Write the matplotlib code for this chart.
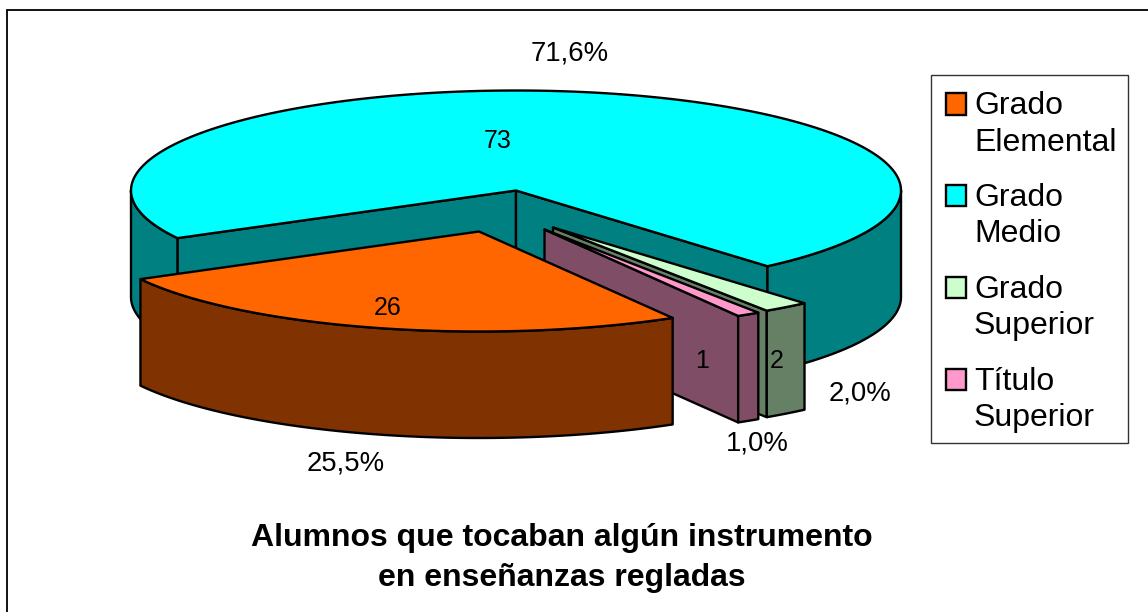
import numpy as np
import matplotlib
matplotlib.use("Agg")
import matplotlib.pyplot as plt
from matplotlib.patches import Polygon, Rectangle, Patch
from matplotlib.legend_handler import HandlerPatch

# ---- data ----
categories = ["Grado\nElemental", "Grado\nMedio", "Grado\nSuperior", "Título\nSuperior"]
values = [26, 73, 2, 1]
percent_labels = ["25,5%", "71,6%", "2,0%", "1,0%"]
title_text = "Alumnos que tocaban algún instrumento\nen enseñanzas regladas"

# ---- style ----
top_colors = ["#FF6600", "#00FFFF", "#CCFFCC", "#FF99CC"]
side_colors = ["#803300", "#008080", "#668066", "#804D66"]
explode_px = [(-37, 41), (0, 0), (37, 37), (28.5, 39)]
value_pos = [(388, 308), (498, 141), (777, 361), (702, 361)]
pct_pos = [(346, 464), (570, 54), (860, 394), (757, 444)]
draw_order = [1, 2, 3, 0]
CX, CY, RX, RY, DEPTH = 516, 190.5, 385, 100, 106.5
FIRST_ANGLE = 300.2  # degrees, math convention; slices run clockwise
LW = 1.7

plt.rcParams["font.family"] = ["Liberation Sans", "DejaVu Sans"]
fig = plt.figure(figsize=(11.48, 6.12), dpi=100)
ax = fig.add_axes([0, 0, 1, 1])
ax.set_xlim(0, 1148)
ax.set_ylim(612, 0)
ax.axis("off")

# the chart area frame is only visible along its top and left edges
ax.plot([6.5, 6.5, 1148], [612, 9.5, 9.5], color="black", lw=1.3, zorder=0,
        solid_joinstyle="miter", clip_on=False)


def pt(a, cx, cy):
    r = np.deg2rad(a)
    return cx + RX * np.cos(r), cy - RY * np.sin(r)


def arc(a0, a1, cx, cy):
    r = np.deg2rad(np.linspace(a0, a1, 200))
    return np.column_stack([cx + RX * np.cos(r), cy - RY * np.sin(r)])


def face(xy, color, z):
    ax.add_patch(Polygon(xy, closed=True, fc=color, ec="black", lw=LW,
                         joinstyle="round", zorder=z))


total = sum(values)
spans = [v / total * 360 for v in values]
starts = FIRST_ANGLE - np.concatenate([[0], np.cumsum(spans)[:-1]])

z = 1
for i in draw_order:
    a_hi = starts[i]
    a_lo = a_hi - spans[i]
    cx, cy = CX + explode_px[i][0], CY + explode_px[i][1]
    # radial cut faces that turn towards the viewer
    for a, visible in ((a_hi, np.cos(np.deg2rad(a_hi)) < 0),
                       (a_lo, np.cos(np.deg2rad(a_lo)) > 0)):
        if visible:
            x, y = pt(a, cx, cy)
            face([(cx, cy), (x, y), (x, y + DEPTH), (cx, cy + DEPTH)], side_colors[i], z)
            z += 1
    # outer wall: only the front half of the ellipse
    for win_lo, win_hi in ((180, 360), (-180, 0)):
        lo_v, hi_v = max(a_lo, win_lo), min(a_hi, win_hi)
        if hi_v > lo_v:
            a = arc(lo_v, hi_v, cx, cy)
            face(np.vstack([a, a[::-1] + np.array([0, DEPTH])]), side_colors[i], z)
            z += 1
    # top face
    face(np.vstack([[(cx, cy)], arc(a_lo, a_hi, cx, cy)]), top_colors[i], z)
    z += 1

for i in range(len(values)):
    ax.text(*value_pos[i], str(values[i]), ha="center", va="center", fontsize=18, zorder=50)
    ax.text(*pct_pos[i], percent_labels[i], ha="center", va="center", fontsize=19.8, zorder=50)

ax.text(562, 558, title_text, ha="center", va="center", fontsize=23, fontweight="bold",
        linespacing=1.46, zorder=50)


class TopSquare(HandlerPatch):
    def create_artists(self, legend, orig, xdescent, ydescent, width, height, fontsize, trans):
        p = Rectangle((-xdescent, -ydescent + 15), width, height,
                      fc=orig.get_facecolor(), ec="black", lw=LW, transform=trans)
        return [p]


ax.add_patch(Rectangle((930.5, 75), 197, 368, fc="white", ec="#333333", lw=1.0, zorder=55))
handles = [Patch(facecolor=c, edgecolor="black") for c in top_colors]
leg = ax.legend(handles, categories, loc="upper left", bbox_to_anchor=(945.5, 91.5),
                bbox_transform=ax.transData, fontsize=23, frameon=False,
                borderaxespad=0, borderpad=0,
                handlelength=0.64, handleheight=0.64, handletextpad=0.25, labelspacing=0.80,
                handler_map={Patch: TopSquare()})
leg.set_zorder(60)
for t in leg.get_texts():
    t.set_linespacing(1.27)

fig.savefig("out.png", dpi=100)
